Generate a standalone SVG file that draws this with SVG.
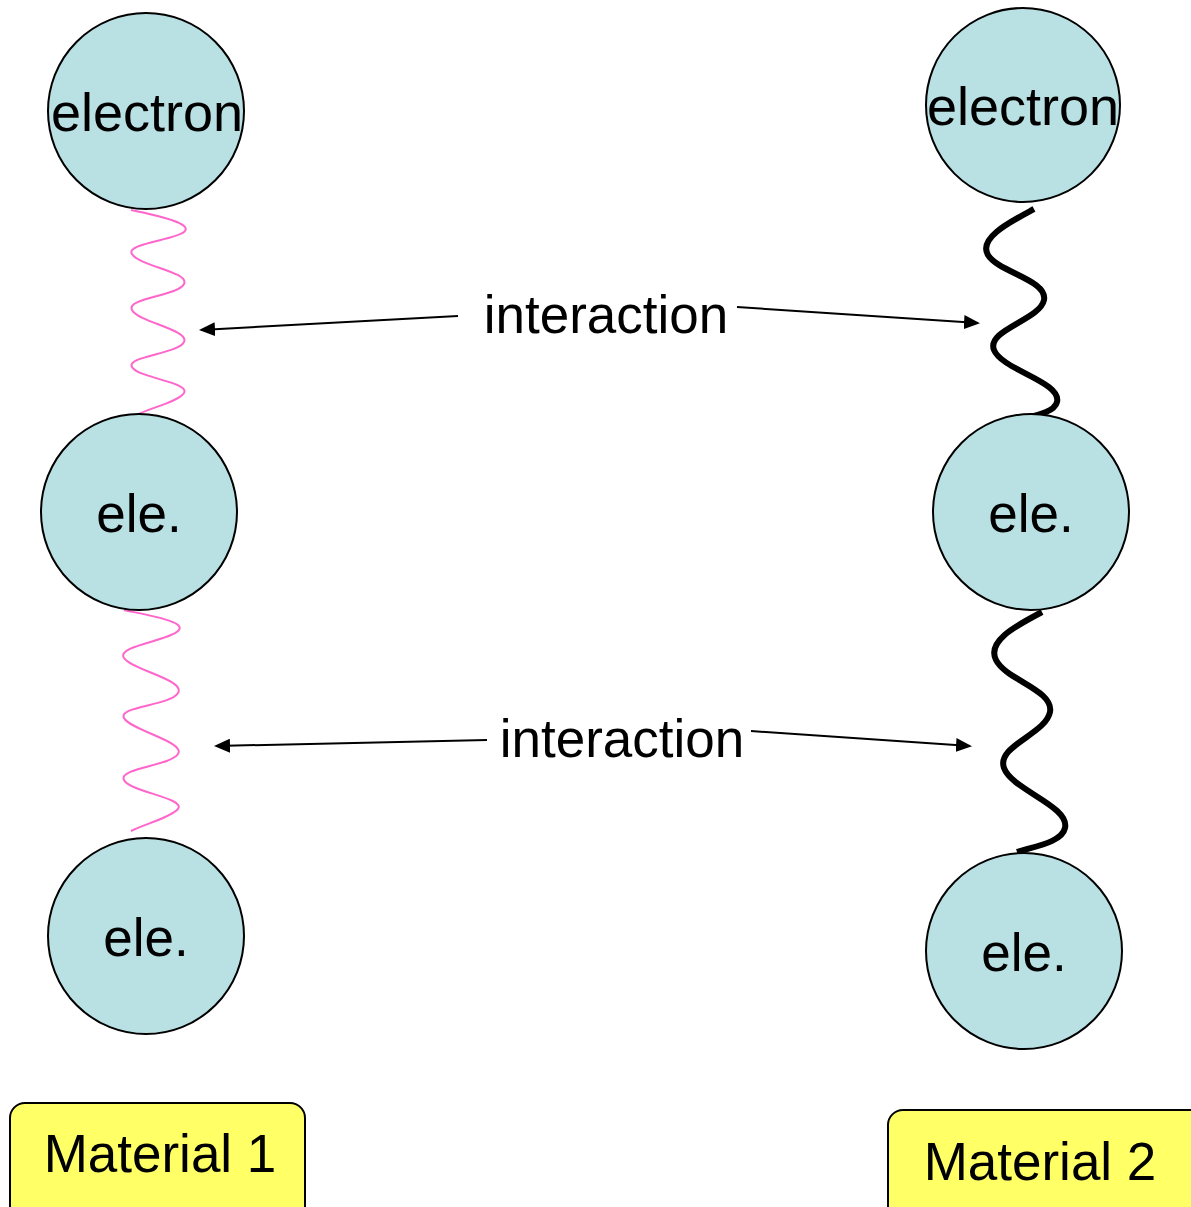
<svg xmlns="http://www.w3.org/2000/svg" width="1191" height="1207" viewBox="0 0 1191 1207">
<style>
.node circle{fill:#b9e0e3;stroke:#000;stroke-width:2}
.t{font-family:"Liberation Sans",Arial,sans-serif;font-size:53px;fill:#000;text-anchor:middle}
.big{font-size:54px}
.box rect{fill:#ffff66;stroke:#000;stroke-width:2}
.pink{fill:none;stroke:#ff66cc;stroke-width:2}
.blk{fill:none;stroke:#000;stroke-width:6}
.arr{fill:none;stroke:#000;stroke-width:2;marker-end:url(#ah)}
</style>
<defs>
<marker id="ah" viewBox="0 0 16 14" refX="14" refY="7" markerWidth="16" markerHeight="14" orient="auto" markerUnits="userSpaceOnUse">
<path d="M0,0 L16,7 L0,14 z" fill="#000"/>
</marker>
</defs>
<rect width="1191" height="1207" fill="#fff"/>
<g id="connectors">
<path class="pink" d="M131,210 C160,216 194,224 184,232 C174,240 125,244 132,254 C139,266 190,272 184,284 C178,296 126,298 132,310 C138,322 190,330 184,342 C178,354 126,356 132,367 C138,378 190,382 184,393 C178,402 150,408 139,414"/>
<path class="pink" d="M124,610 C152,616 188,622 178,631 C168,641 116,646 124,658 C132,670 186,680 178,693 C170,706 118,706 124,718 C130,730 186,742 178,754 C170,766 118,768 124,780 C130,792 186,798 178,809 C170,818 144,824 131,831"/>
<path class="blk" d="M1034,209 C1010,222 978,238 988,255 C998,272 1048,280 1044,300 C1040,320 986,330 994,350 C1002,370 1062,382 1057,402 C1054,414 1030,416 1010,422"/>
<path class="blk" d="M1042,612 C1020,624 986,640 996,660 C1006,680 1054,690 1050,712 C1046,734 996,746 1004,768 C1012,790 1070,806 1065,828 C1062,842 1036,846 1017,852"/>
<line class="arr" x1="458" y1="316" x2="201" y2="330"/>
<line class="arr" x1="737" y1="307" x2="978" y2="323"/>
<line class="arr" x1="487" y1="740" x2="216" y2="746"/>
<line class="arr" x1="751" y1="731" x2="970" y2="746"/>
</g>
<g id="n1" class="node"><circle cx="146" cy="111" r="98"/><text class="t big" x="147" y="131">electron</text></g>
<g id="n2" class="node"><circle cx="139" cy="512" r="98"/><text class="t" x="139" y="532">ele.</text></g>
<g id="n3" class="node"><circle cx="146" cy="936" r="98"/><text class="t" x="146" y="956">ele.</text></g>
<g id="n4" class="node"><circle cx="1023" cy="105" r="97"/><text class="t big" x="1023" y="125">electron</text></g>
<g id="n5" class="node"><circle cx="1031" cy="512" r="98"/><text class="t" x="1031" y="532">ele.</text></g>
<g id="n6" class="node"><circle cx="1024" cy="951" r="98"/><text class="t" x="1024" y="971">ele.</text></g>
<g id="lbl1"><text class="t" x="606" y="333">interaction</text></g>
<g id="lbl2"><text class="t" x="622" y="757">interaction</text></g>
<g id="m1" class="box"><rect x="10" y="1103" width="295" height="120" rx="15"/><text class="t" x="160" y="1172">Material 1</text></g>
<g id="m2" class="box"><rect x="888" y="1110" width="320" height="120" rx="15"/><text class="t" x="1040" y="1180">Material 2</text></g>
</svg>
